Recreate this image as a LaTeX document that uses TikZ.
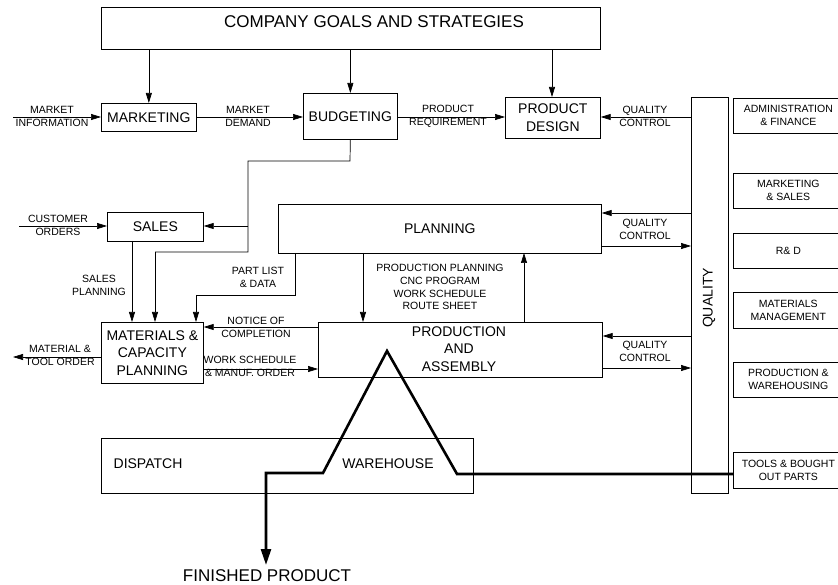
\documentclass[tikz,border=0pt]{standalone}
\usepackage{fontspec}
\setmainfont{Liberation Sans}
\usetikzlibrary{arrows.meta}
\begin{document}
\begin{tikzpicture}[x=1pt,y=-1pt,
  line width=0.7pt,
  box/.style={draw, inner sep=0pt, anchor=north west, align=center, font=\fontsize{14}{17.5}\selectfont},
  sbox/.style={draw, inner sep=0pt, anchor=north west, align=center, font=\fontsize{10.5}{13}\selectfont},
  lbl/.style={inner sep=0pt, align=center, font=\fontsize{10.5}{13}\selectfont},
  big/.style={inner sep=0pt, font=\fontsize{14}{17.5}\selectfont},
  arr/.style={-{Triangle[length=10pt,width=6pt]}},
  flow/.style={line width=2.6pt, line join=miter},
]
\useasboundingbox (0,0) rectangle (838,585);

% boxes
\node[box, minimum width=499pt, minimum height=42pt] (goals) at (101,7) {};
\node[inner sep=0pt, font=\fontsize{17}{20}\selectfont] (goalst) at (374,22) {COMPANY GOALS AND STRATEGIES};
\node[box, minimum width=95pt, minimum height=28pt] (mkt) at (101,103) {MARKETING};
\node[box, minimum width=94pt, minimum height=46pt] (bud) at (303,93) {BUDGETING};
\node[box, minimum width=95pt, minimum height=41pt] (pd) at (505,97) {PRODUCT\\DESIGN};
\node[box, minimum width=96pt, minimum height=29pt] (sales) at (107,212) {SALES};
\node[box, minimum width=323pt, minimum height=49pt] (plan) at (278,204) {PLANNING};
\node[box, minimum width=102pt, minimum height=61pt] (mcp) at (101,322) {MATERIALS \&\\CAPACITY\\PLANNING};
\node[box, minimum width=284pt, minimum height=55pt] (pa) at (318,322) {};
\node[big, align=center] (pat) at (459,349) {PRODUCTION\\AND\\ASSEMBLY};
\node[box, minimum width=372pt, minimum height=55pt] (wh) at (101,438) {};
\node[big] (disp) at (148,464) {DISPATCH};
\node[big] (whs) at (388,464) {WAREHOUSE};
\node[box, minimum width=37pt, minimum height=396pt] (qual) at (691,97) {};
\node[big, rotate=90] (qualt) at (709,298) {QUALITY};

% right boxes
\node[sbox, minimum width=110pt, minimum height=35pt] (adm) at (733,98) {ADMINISTRATION\\\& FINANCE};
\node[sbox, minimum width=110pt, minimum height=35pt] (ms) at (733,173) {MARKETING\\\& SALES};
\node[sbox, minimum width=110pt, minimum height=35pt] (rd) at (733,233) {R\& D};
\node[sbox, minimum width=110pt, minimum height=36pt] (mm) at (733,292) {MATERIALS\\MANAGEMENT};
\node[sbox, minimum width=110pt, minimum height=35pt] (pw) at (733,362) {PRODUCTION \&\\WAREHOUSING};
\node[sbox, minimum width=110pt, minimum height=36pt] (tools) at (733,452) {TOOLS \& BOUGHT\\OUT PARTS};

% free ends
\coordinate (minfo) at (13,117);
\coordinate (corder) at (19,226);
\coordinate (mtorder) at (13,357);
\coordinate (fin) at (266,565);

% top arrows
\draw[arr] (goals.south -| mkt.north) -- (mkt.north);
\draw[arr] (goals.south -| bud.north) -- (bud.north);
\draw[arr] (goals.south -| 552,0) -- (pd.north -| 552,0);

% horizontal flow row 1
\draw[arr] (minfo) -- (mkt.west |- minfo);
\node[lbl] at (52,116) {MARKET\\INFORMATION};
\draw[arr] (mkt.east |- 0,117) -- (bud.west |- 0,117);
\node[lbl] at (248,116) {MARKET\\DEMAND};
\draw[arr] (bud.east |- 0,117) -- (pd.west |- 0,117);
\node[lbl] at (448,116) {PRODUCT\\REQUIREMENT};
\draw[arr] (qual.west |- 0,117) -- (pd.east |- 0,117);
\node[lbl] at (645,116) {QUALITY\\CONTROL};

% budgeting down to sales and MCP
\draw (bud.south) -- (350,161) -- (248,161) -- (248,252) -- (155,252) edge[arr] (155,322);
\draw[arr] (248,226) -- (sales.east |- 0,226);
\draw[arr] (corder) -- (sales.west |- corder);
\node[lbl] at (58,225) {CUSTOMER\\ORDERS};
\draw[arr] (132,241) -- (132,322);
\node[lbl] at (99,285) {SALES\\PLANNING};

% part list
\draw (295,253) -- (295,295) -- (196,295) edge[arr] (196,322);
\node[lbl] at (258,277) {PART LIST\\\& DATA};

% planning <-> production
\draw[arr] (363,253) -- (363,322);
\draw[arr] (524,322) -- (524,253);
\node[lbl, font=\fontsize{10.5}{12.8}\selectfont] at (440,287) {PRODUCTION PLANNING\\CNC PROGRAM\\WORK SCHEDULE\\ROUTE SHEET};

% MCP <-> PA
\draw[arr] (pa.west |- 0,327) -- (mcp.east |- 0,327);
\node[lbl] at (256,327) {NOTICE OF\\COMPLETION};
\draw[arr] (mcp.east |- 0,369) -- (pa.west |- 0,369);
\node[lbl] at (250,366) {WORK SCHEDULE\\\& MANUF. ORDER};
\draw[arr] (mcp.west |- 0,357) -- (mtorder);
\node[lbl] at (60,355) {MATERIAL \&\\TOOL ORDER};

% quality control planning
\draw[arr] (qual.west |- 0,213) -- (plan.east |- 0,213);
\draw[arr] (plan.east |- 0,246) -- (qual.west |- 0,246);
\node[lbl] at (645,229) {QUALITY\\CONTROL};
% quality control production
\draw[arr] (qual.west |- 0,336) -- (pa.east |- 0,336);
\draw[arr] (pa.east |- 0,368) -- (qual.west |- 0,368);
\node[lbl] at (645,351) {QUALITY\\CONTROL};

% material flow
\draw[flow, -{Triangle[length=16pt,width=10pt]}] (tools.west |- 0,474) -- (457,474) -- (387,351) -- (323,473) -- (266,473) -- (fin);
\node[inner sep=0pt, font=\fontsize{17}{20}\selectfont] (fint) at (267,576) {FINISHED PRODUCT};
\end{tikzpicture}
\end{document}
